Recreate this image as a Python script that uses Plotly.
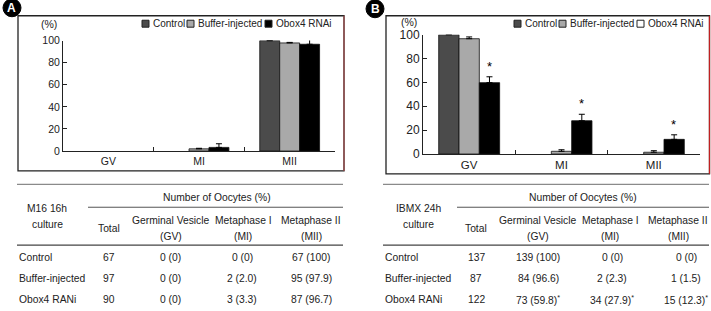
import plotly.graph_objects as go

W, H = 711, 311

# ---------------- data ----------------
stages = ["GV", "MI", "MII"]
groups = ["Control", "Buffer-injected", "Obox4 RNAi"]

# Panel A (M16 16h culture), % of oocytes
a_control = [0, 0, 100]
a_buffer = [0, 2.0, 97.9]
a_obox = [0, 3.3, 96.7]
a_control_err = [0, 0, 0]
a_buffer_err = [0, 0.5, 0.5]
a_obox_err = [0, 3.3, 4.3]

# Panel B (IBMX 24h culture), % of oocytes
b_control = [100, 0, 0]
b_buffer = [96.6, 2.3, 1.5]
b_obox = [59.8, 27.9, 12.3]
b_control_err = [0, 0, 0]
b_buffer_err = [1.5, 1.3, 1.3]
b_obox_err = [4.9, 5.4, 3.8]
b_signif = [True, True, True]

y_ticks = [0, 20, 40, 60, 80, 100]

# Tables
table_a_title = ["M16 16h", "culture"]
table_b_title = ["IBMX 24h", "culture"]
col_total = "Total"
col_group_header = "Number of Oocytes (%)"
col_heads = [["Germinal Vesicle", "(GV)"], ["Metaphase I", "(MI)"], ["Metaphase II", "(MII)"]]
row_labels = ["Control", "Buffer-injected", "Obox4 RANi"]
table_a_total = ["67", "97", "90"]
table_a_cells = [["0 (0)", "0 (0)", "67 (100)"],
                 ["0 (0)", "2 (2.0)", "95 (97.9)"],
                 ["0 (0)", "3 (3.3)", "87 (96.7)"]]
table_b_total = ["137", "87", "122"]
table_b_cells = [["139 (100)", "0 (0)", "0 (0)"],
                 ["84 (96.6)", "2 (2.3)", "1 (1.5)"],
                 ["73 (59.8)<sup>*</sup>", "34 (27.9)<sup>*</sup>", "15 (12.3)<sup>*</sup>"]]

# ---------------- helpers ----------------
def px(x):
    return x / W

def py(y):
    yn = (y - 8.2) / 0.96
    return 1 - yn / H

FONT = "Liberation Sans, Arial, sans-serif"
TXT = "#222"
TFS = 10.3  # table font size
colors = ["#4b4b4b", "#a9a9a9", "#000000"]

fig = go.Figure()

def add_bars(vals, errs, xa, ya):
    for g, v, e, c in zip(groups, vals, errs, colors):
        keep = [i for i, val in enumerate(v) if val > 0]  # zero-height bars are invisible
        fig.add_trace(go.Bar(
            x=[stages[i] for i in keep], y=[v[i] for i in keep], name=g, xaxis=xa, yaxis=ya,
            marker=dict(color=c, line=dict(color="#111", width=0.8)),
            error_y=dict(type="data", array=[e[i] for i in keep],
                         arrayminus=[0] * len(keep), symmetric=False,
                         color="#000", thickness=1, width=3),
            cliponaxis=False, showlegend=False))

add_bars([a_control, a_buffer, a_obox], [a_control_err, a_buffer_err, a_obox_err], "x", "y")
add_bars([b_control, b_buffer, b_obox], [b_control_err, b_buffer_err, b_obox_err], "x2", "y2")

axis_common = dict(showline=True, linecolor="#222", linewidth=1, showgrid=False, zeroline=False)

fig.update_layout(
    width=W, height=H, margin=dict(l=0, r=0, t=0, b=0),
    paper_bgcolor="white", plot_bgcolor="white",
    barmode="group", bargap=0.34, bargroupgap=0,
    font=dict(family=FONT, color=TXT),
    xaxis=dict(domain=[px(63), px(335)], anchor="y", ticks="inside", tickson="boundaries",
               ticklen=4, tickcolor="#222", tickfont=dict(size=10.5, color=TXT),
               categoryorder="array", categoryarray=stages, range=[-0.5, 2.5], **axis_common),
    yaxis=dict(domain=[py(153), py(42)], anchor="x", range=[0, 100], tickvals=y_ticks,
               ticks="inside", ticklen=4, tickcolor="#222", tickfont=dict(size=10.5, color=TXT),
               **axis_common),
    xaxis2=dict(domain=[px(423), px(700)], anchor="y2", ticks="inside", tickson="boundaries",
                ticklen=4, tickcolor="#222", tickfont=dict(size=11.5, color=TXT),
                categoryorder="array", categoryarray=stages, range=[-0.5, 2.5], **axis_common),
    yaxis2=dict(domain=[py(156), py(36)], anchor="x2", range=[0, 100], tickvals=y_ticks,
                ticks="inside", ticklen=4, tickcolor="#222", tickfont=dict(size=12, color=TXT),
                **axis_common),
)

shapes = []
ann = []

def text(x, y, s, size=TFS, xanchor="center", color=TXT, bold=False):
    ann.append(dict(x=px(x), y=py(y), xref="paper", yref="paper", text=("<b>%s</b>" % s) if bold else s,
                    showarrow=False, xanchor=xanchor, yanchor="middle",
                    font=dict(size=size, color=color, family=FONT)))

def line(x0, y0, x1, y1, color="#888", width=1.2):
    shapes.append(dict(type="line", xref="paper", yref="paper", x0=px(x0), y0=py(y0),
                       x1=px(x1), y1=py(y1), line=dict(color=color, width=width)))

# panel boxes
for (x0, y0, x1, y1, redc) in [(18, 17, 344, 173, "#a05050"), (386, 17, 709.5, 176, "#c02020")]:
    shapes.append(dict(type="rect", xref="paper", yref="paper", x0=px(x0), y0=py(y0), x1=px(x1), y1=py(y1),
                       line=dict(color="#222", width=1.3)))
    line(x1, y0, x1, y1, color=redc, width=1.3)

# panel letters
for (cx, cy, letter) in [(12, 9, "A"), (375, 10, "B")]:
    shapes.append(dict(type="circle", xref="paper", yref="paper", x0=px(cx - 9), y0=py(cy - 9),
                       x1=px(cx + 9), y1=py(cy + 9), fillcolor="#000", line=dict(color="#000", width=1)))
    text(cx, cy + 0.5, letter, size=12, color="white", bold=True)

# (%) labels
text(49, 25, "(%)", size=10.5)
text(409, 23, "(%)", size=10.5)

# legends
def legend(items, y, size, fills):
    for (mx, tx, label), fc in zip(items, fills):
        shapes.append(dict(type="rect", xref="paper", yref="paper", x0=px(mx), y0=py(y - 3.5),
                           x1=px(mx + 7), y1=py(y + 3.5), fillcolor=fc, line=dict(color="#222", width=1)))
        text(tx, y, label, size=size, xanchor="left")

legend([(142, 150.5, groups[0]), (187, 195.5, groups[1]), (265, 273.5, groups[2])], 25, 10,
       [colors[0], colors[1], colors[2]])
legend([(514, 522.5, groups[0]), (559, 567.5, groups[1]), (637, 645.5, groups[2])], 25, 10,
       [colors[0], colors[1], "white"])

# asterisks in panel B
for st, v, e, sig in zip(stages, b_obox, b_obox_err, b_signif):
    if sig:
        ann.append(dict(x=st, y=v + e, xref="x2", yref="y2", text="*", showarrow=False,
                        xshift=20, yshift=1, yanchor="bottom",
                        font=dict(size=13, color="#000", family=FONT)))

# tables
def table(x0, x1, sub_x0, title, title_x, total_x, head_x, col_x, number_x, totals, cells):
    line(x0, 186.5, x1, 186.5, color="#8a8a8a", width=1.3)
    line(sub_x0, 209.5, x1, 209.5, color="#555", width=1.0)
    line(x0, 247.5, x1, 247.5, color="#444", width=1.3)
    text(number_x, 199.5, col_group_header)
    text(title_x, 211, title[0])
    text(title_x, 227, title[1])
    text(total_x, 230.5, col_total)
    for cx, (h1, h2) in zip(head_x, col_heads):
        text(cx, 222.5, h1)
        text(cx, 239, h2)
    for ry, lab, tot, row in zip([260.5, 281.5, 302.5], row_labels, totals, cells):
        text(x0, ry, lab, xanchor="left")
        text(total_x, ry, tot)
        for cx, cval in zip(col_x, row):
            text(cx, ry, cval)

table(17, 343, 88, table_a_title, 47, 109, [171, 243, 311], [170, 242, 311], 217,
      table_a_total, table_a_cells)
table(383, 709, 457, table_b_title, 419, 476, [538, 610, 678], [538, 612, 686], 583,
      table_b_total, table_b_cells)

fig.update_layout(shapes=shapes, annotations=ann)
fig.write_html("out.html")
